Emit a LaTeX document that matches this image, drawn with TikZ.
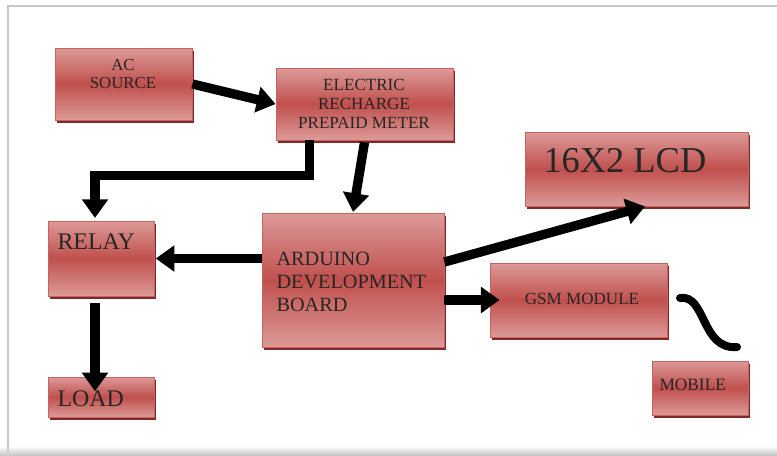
\documentclass[tikz,border=0pt]{standalone}
\usepackage{fontspec}
\setmainfont{Liberation Serif}
\usetikzlibrary{arrows.meta,fit,shadows}

\definecolor{boxlight}{HTML}{DC9A98}
\definecolor{boxdark}{HTML}{C0504D}
\definecolor{boxline}{HTML}{C9615E}
\definecolor{boxshade}{HTML}{7F2A28}
\definecolor{framegray}{HTML}{C8C8C8}

\tikzset{every picture/.style={line width=0.75pt}}
\tikzset{
  block/.style={draw=boxline, line width=0.6pt, inner sep=0pt,
    top color=boxlight, bottom color=boxlight, middle color=boxdark,
    drop shadow={shadow xshift=1.5pt, shadow yshift=-2.4pt, fill=boxshade, opacity=1}},
  label/.style={inner sep=0.75pt, text=black!85},
  flow/.style={line width=7pt, -{Triangle[width=19pt,length=14pt]}},
  wave/.style={line width=6pt, line cap=round}
}

\begin{document}
\begin{tikzpicture}[x=0.75pt,y=0.75pt,yscale=-1,xscale=1]
\useasboundingbox (0,0) rectangle (777,455);
% page frame
\fill [top color=white, bottom color=black!22] (0,446) rectangle (777,455);
\draw [framegray, line width=1.5pt] (8,452) -- (8,6) -- (777,6);

% blocks
\node [block, fit={(55,48) (192,120)}] (ac) {};
\node [block, fit={(276,68) (453,140)}] (meter) {};
\node [block, fit={(525,132) (748,206)}] (lcd) {};
\node [block, fit={(48,221) (154,296)}] (relay) {};
\node [block, fit={(262,213) (444,347)}] (arduino) {};
\node [block, fit={(490,263) (667,337)}] (gsm) {};
\node [block, fit={(48,377) (154,417)}] (load) {};
\node [block, fit={(652,361) (748,415)}] (mobile) {};

% texts
\draw (123,74) node [label, align=center, font=\fontsize{12.6}{13.5}\selectfont] {AC\\SOURCE};
\draw (364,104) node [label, align=center, font=\fontsize{12.8}{14.4}\selectfont] {ELECTRIC\\RECHARGE\\PREPAID METER};
\draw (542,161) node [label, anchor=west, font=\fontsize{27.3}{30}\selectfont] {16X2 LCD};
\draw (56,242) node [label, anchor=west, font=\fontsize{17.9}{20}\selectfont] {RELAY};
\draw (275,282) node [label, anchor=west, align=left, font=\fontsize{15.2}{17.3}\selectfont] {ARDUINO\\DEVELOPMENT\\BOARD};
\draw (582,299) node [label, font=\fontsize{12.8}{14}\selectfont] {GSM MODULE};
\draw (56,399) node [label, anchor=west, font=\fontsize{17.9}{20}\selectfont] {LOAD};
\draw (658,385) node [label, anchor=west, font=\fontsize{13}{14}\selectfont] {MOBILE};

% connections
\coordinate (wavestart) at (680,298);
\coordinate (waveend) at (737,347);
\draw [flow] (ac.east) -- (meter.west);
\draw [flow] ([xshift=25.5pt]meter.south west) -- ++(0,35) -| ([xshift=-4.5pt,yshift=-2pt]relay.north);
\draw [flow] ([yshift=1.5pt]meter.south) -- ([yshift=-0.5pt]arduino.north);
\draw [flow] (arduino.west |- relay.east) -- ([xshift=1pt]relay.east);
\draw [flow] ([xshift=-4.5pt,yshift=5pt]relay.south) -- ([xshift=-4.5pt,yshift=11pt]load.north);
\draw [flow] ([yshift=-13.5pt]arduino.east) -- ([xshift=6.4pt]lcd.south);
\draw [flow] (arduino.east |- gsm.west) -- ([xshift=7.5pt]gsm.west);
\draw [wave] (wavestart) .. controls (706,294) and (701,350) .. (waveend);
\end{tikzpicture}
\end{document}
